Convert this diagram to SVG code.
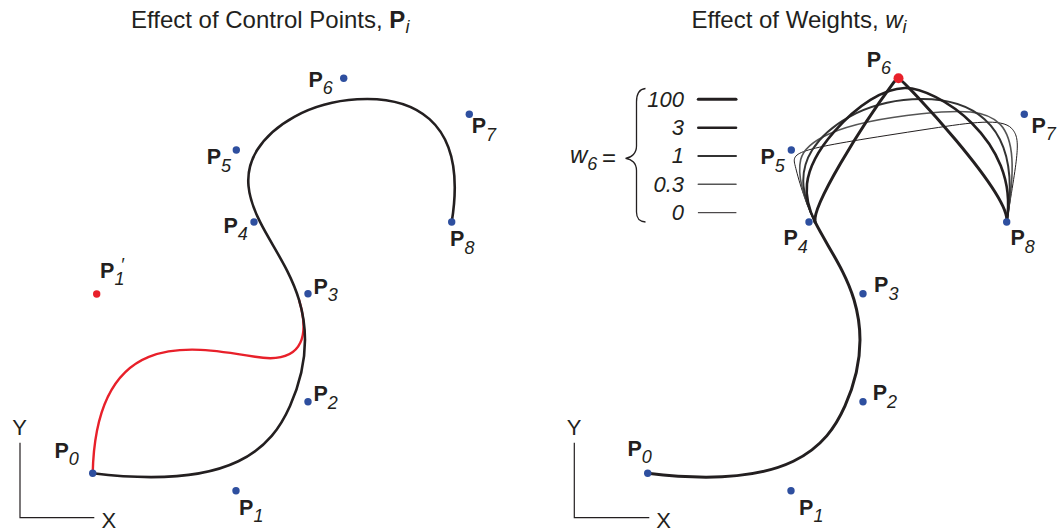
<svg xmlns="http://www.w3.org/2000/svg" width="1062" height="531" viewBox="0 0 1062 531">
<style>
text { font-family: "Liberation Sans", Arial, Helvetica, sans-serif; fill: #231f20; }
.title { font-size: 24px; }
.lbl { font-size: 21.5px; font-weight: bold; }
.sub { font-size: 18px; font-weight: normal; font-style: italic; }
.ax { font-size: 22px; }
.num { font-size: 22px; font-style: italic; text-anchor: end; }
.dot { fill: #2e4f9f; }
.reddot { fill: #e8202a; }
.crv { fill: none; stroke: #231f20; stroke-linecap: round; stroke-linejoin: round; }
.redcrv { fill: none; stroke: #e8202a; stroke-width: 2.4; stroke-linecap: round; }
.base { stroke-width: 2.6; }
.w100 { stroke-width: 3; }
.w3 { stroke-width: 2.6; }
.w1 { stroke-width: 2; stroke: #333; }
.w03 { stroke-width: 1.6; stroke: #555; }
.w0 { stroke-width: 1; }
.axis { fill: none; stroke: #231f20; stroke-width: 1.2; }
.brace { fill: none; stroke: #231f20; stroke-width: 1.3; }
</style>

<!-- titles -->
<text id="title-left" class="title" x="131" y="28">Effect of Control Points, <tspan font-weight="bold">P</tspan><tspan class="sub" dy="5">i</tspan></text>
<text id="title-right" class="title" x="691.4" y="28">Effect of Weights, <tspan font-style="italic">w</tspan><tspan class="sub" dy="5">i</tspan></text>

<!-- axes -->
<g id="axes-left">
  <path class="axis" d="M20,442.7 V517.7 H94.3"/>
  <text class="ax" x="19.5" y="435" text-anchor="middle">Y</text>
  <text class="ax" x="101.6" y="528">X</text>
</g>
<g id="axes-right">
  <path class="axis" d="M574.3,442.7 V517.7 H649.3"/>
  <text class="ax" x="574" y="435" text-anchor="middle">Y</text>
  <text class="ax" x="656.3" y="528">X</text>
</g>

<!-- connectors / curves -->
<g id="connectors">
  <path class="redcrv" d="M92.7,473.3 C96,330 185,345 255.2,356.8 C308,365.7 308,329.7 299,299.75"/>
  <path class="crv base" d="M92.7,473.3 C236,490.7 272,446.2 290,405.95 C308,365.7 308,329.7 299,299.75 C290,269.8 272,245.9 260.05,221.95 C248.1,198 242.2,174 257.15,150.05 C272.1,126.1 307.9,102.2 357.2,99.25 C406.5,96.3 469.3,114.3 451.7,222"/>

  <path class="crv w100" d="M647.7,473.3 C791,490.7 827,446.2 845,405.95 C863,365.7 863,329.7 854,299.75 C845,269.8 827,245.9 815.05,221.95"/>
  <path class="crv w0" d="M815.05,221.95 C802.82,197.44 797.07,173.47 794.84,164.4 C791.49,150.78 798.57,148.89 931.1,128.58 C971.71,122.36 1001.97,118.01 1011.58,128.32 C1021.17,138.62 1018.16,151.91 1006.7,222"/>
  <path class="crv w03" d="M815.05,221.95 C802.75,197.29 797.19,174.06 800.72,159.53 C804.76,142.9 831.77,123.09 921.52,113.71 C1000.27,105.47 1024.3,114.3 1006.7,222"/>
  <path class="crv w1" d="M815.05,221.95 C803.1,198 797.2,174 812.15,150.05 C827.1,126.1 862.9,102.2 912.2,99.25 C961.5,96.3 1024.3,114.3 1006.7,222"/>
  <path class="crv w3" d="M815.05,221.95 C803.99,199.77 798.37,172.66 833.79,132.11 C857.97,104.43 883.63,88.53 904.93,87.97 C934.98,87.17 1020.3,138.75 1006.7,222"/>
  <path class="crv w100" d="M815.05,221.95 C812,206 860,128 893.75,82.4 C895.5,80 897,78.66 898.93,78.66 C902.3,78.66 1011.23,194.29 1006.7,222"/>
</g>

<!-- legend -->
<g id="legend">
  <text x="570" y="162.5" font-size="24" font-style="italic">w<tspan class="sub" dy="7.5">6</tspan></text>
  <text x="602" y="166" font-size="24">=</text>
  <path class="brace" d="M645.5,88.5 C639.5,89 636.5,94 636.5,102 L636.5,146 C636.5,153 632,157.5 625.5,158.3 C632,159 636.5,163.5 636.5,170.5 L636.5,212 C636.5,219 639.5,221.5 645.5,222"/>
  <text class="num" x="684" y="106.7">100</text>
  <text class="num" x="684" y="135">3</text>
  <text class="num" x="684" y="163.3">1</text>
  <text class="num" x="684" y="191.7">0.3</text>
  <text class="num" x="684" y="220">0</text>
  <path class="crv w100" d="M698.3,99.3 H736"/>
  <path class="crv w3" d="M698.3,127.7 H736"/>
  <path class="crv w1" d="M698.3,156 H736"/>
  <path class="crv w03" d="M698.3,184.3 H736"/>
  <path class="crv w0" d="M698.3,212.7 H736"/>
</g>

<!-- left panel nodes -->
<g id="L-P0"><circle class="dot" cx="92.7" cy="473.3" r="3.7"/><text class="lbl" x="54.4" y="458.3">P<tspan class="sub" dy="7">0</tspan></text></g>
<g id="L-P1"><circle class="dot" cx="236" cy="490.7" r="3.7"/><text class="lbl" x="239.1" y="515">P<tspan class="sub" dy="7">1</tspan></text></g>
<g id="L-P2"><circle class="dot" cx="308" cy="401.7" r="3.7"/><text class="lbl" x="313.4" y="401">P<tspan class="sub" dy="7.5">2</tspan></text></g>
<g id="L-P3"><circle class="dot" cx="308" cy="293.7" r="3.7"/><text class="lbl" x="313.4" y="293.5">P<tspan class="sub" dy="7">3</tspan></text></g>
<g id="L-P4"><circle class="dot" cx="254" cy="222" r="3.7"/><text class="lbl" x="223.4" y="233.3">P<tspan class="sub" dy="7">4</tspan></text></g>
<g id="L-P5"><circle class="dot" cx="236.3" cy="150" r="3.7"/><text class="lbl" x="206.7" y="164.3">P<tspan class="sub" dy="8">5</tspan></text></g>
<g id="L-P6"><circle class="dot" cx="343.7" cy="78.3" r="3.7"/><text class="lbl" x="308.4" y="86.7">P<tspan class="sub" dy="7.6">6</tspan></text></g>
<g id="L-P7"><circle class="dot" cx="469.3" cy="114.3" r="3.7"/><text class="lbl" x="471.7" y="132.7">P<tspan class="sub" dy="8">7</tspan></text></g>
<g id="L-P8"><circle class="dot" cx="451.7" cy="222" r="3.7"/><text class="lbl" x="450.1" y="246">P<tspan class="sub" dy="8">8</tspan></text></g>
<g id="L-P1prime"><circle class="reddot" cx="96.7" cy="294" r="3.7"/><text class="lbl" x="100.1" y="278.3">P<tspan class="sub" dy="6.7">1</tspan><tspan class="sub" dx="-4" dy="-14.5">′</tspan></text></g>

<!-- right panel nodes -->
<g id="R-P0"><circle class="dot" cx="647.7" cy="473.3" r="3.7"/><text class="lbl" x="627.4" y="456">P<tspan class="sub" dy="7">0</tspan></text></g>
<g id="R-P1"><circle class="dot" cx="791" cy="490.7" r="3.7"/><text class="lbl" x="799.1" y="515">P<tspan class="sub" dy="7">1</tspan></text></g>
<g id="R-P2"><circle class="dot" cx="863" cy="401.7" r="3.7"/><text class="lbl" x="872.7" y="400">P<tspan class="sub" dy="7.5">2</tspan></text></g>
<g id="R-P3"><circle class="dot" cx="863" cy="293.7" r="3.7"/><text class="lbl" x="874.1" y="292.3">P<tspan class="sub" dy="7.5">3</tspan></text></g>
<g id="R-P4"><circle class="dot" cx="809" cy="222" r="3.7"/><text class="lbl" x="783.4" y="245">P<tspan class="sub" dy="8">4</tspan></text></g>
<g id="R-P5"><circle class="dot" cx="791.3" cy="150" r="3.7"/><text class="lbl" x="760.4" y="164">P<tspan class="sub" dy="8">5</tspan></text></g>
<g id="R-P6"><circle class="reddot" cx="898.5" cy="78.3" r="5"/><text class="lbl" x="866.7" y="66.7">P<tspan class="sub" dy="7.6">6</tspan></text></g>
<g id="R-P7"><circle class="dot" cx="1024.3" cy="114.3" r="3.7"/><text class="lbl" x="1031.4" y="132.7">P<tspan class="sub" dy="7.5">7</tspan></text></g>
<g id="R-P8"><circle class="dot" cx="1006.7" cy="222" r="3.7"/><text class="lbl" x="1010.4" y="245">P<tspan class="sub" dy="8">8</tspan></text></g>
</svg>
